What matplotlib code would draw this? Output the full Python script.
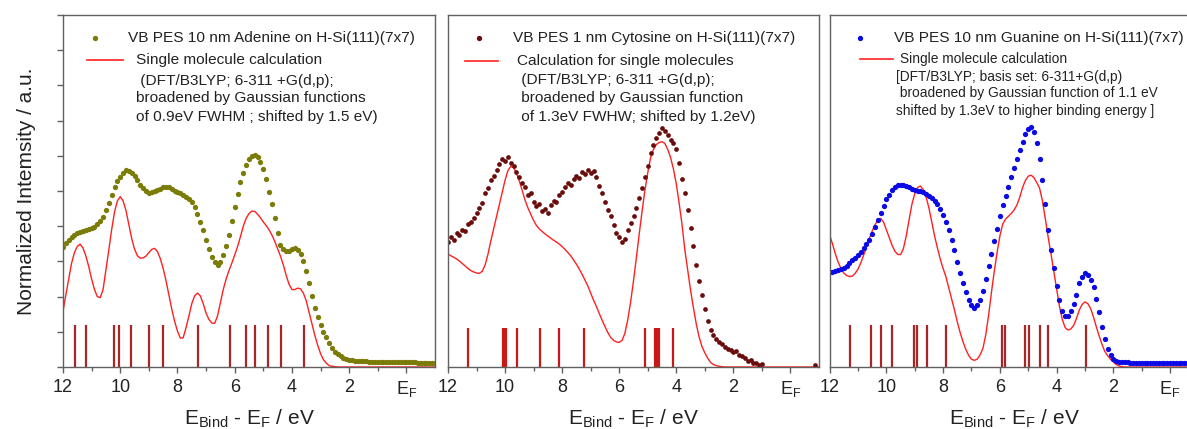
import numpy as np
import matplotlib
matplotlib.use('Agg')
import matplotlib.pyplot as plt
from matplotlib.ticker import FixedLocator

plt.rcParams['font.family'] = ['Liberation Sans', 'DejaVu Sans']
plt.rcParams['mathtext.default'] = 'regular'

# binding energy grid, 12 eV down to -1 eV in 0.1 eV steps
energy = np.round(np.arange(12.0, -1.05, -0.1), 1)

# --- Adenine (10 nm) ---
ade_pes = [3.42, 3.52, 3.60, 3.68, 3.75, 3.80, 3.84, 3.87, 3.89, 3.91,
           3.94, 3.99, 4.06, 4.15, 4.26, 4.45, 4.65, 4.88, 5.10, 5.28,
           5.40, 5.52, 5.59, 5.58, 5.52, 5.42, 5.30, 5.18, 5.08, 5.00,
           4.95, 4.97, 5.00, 5.03, 5.07, 5.10, 5.12, 5.10, 5.06, 5.01,
           4.96, 4.93, 4.88, 4.83, 4.77, 4.68, 4.55, 4.35, 4.12, 3.88,
           3.62, 3.36, 3.12, 2.97, 2.90, 2.98, 3.18, 3.45, 3.75, 4.15,
           4.55, 4.92, 5.25, 5.52, 5.75, 5.90, 6.00, 6.03, 5.97, 5.83,
           5.62, 5.33, 4.98, 4.62, 4.22, 3.80, 3.48, 3.36, 3.30, 3.30,
           3.34, 3.37, 3.33, 3.20, 3.00, 2.72, 2.38, 2.02, 1.68, 1.42,
           1.20, 1.00, 0.84, 0.68, 0.55, 0.44, 0.36, 0.30, 0.26, 0.23,
           0.21, 0.19, 0.18, 0.17, 0.17, 0.16, 0.16, 0.15, 0.15, 0.15,
           0.14, 0.14, 0.14, 0.14, 0.14, 0.14, 0.13, 0.13, 0.13, 0.13,
           0.13, 0.13, 0.13, 0.13, 0.12, 0.12, 0.12, 0.12, 0.12, 0.12,
           0.12]
ade_calc = [1.58, 2.05, 2.50, 2.95, 3.25, 3.43, 3.49, 3.38, 3.15, 2.85,
            2.50, 2.20, 2.00, 1.97, 2.20, 2.75, 3.32, 3.90, 4.40, 4.72,
            4.84, 4.72, 4.45, 4.05, 3.65, 3.35, 3.16, 3.09, 3.10, 3.15,
            3.25, 3.34, 3.37, 3.28, 3.08, 2.80, 2.45, 2.05, 1.65, 1.30,
            1.02, 0.82, 0.83, 1.12, 1.45, 1.80, 2.02, 2.10, 2.02, 1.80,
            1.53, 1.35, 1.25, 1.24, 1.45, 1.82, 2.20, 2.50, 2.74, 2.95,
            3.18, 3.42, 3.70, 4.00, 4.22, 4.36, 4.43, 4.42, 4.34, 4.24,
            4.12, 4.02, 3.90, 3.75, 3.57, 3.36, 3.15, 2.90, 2.60, 2.35,
            2.20, 2.20, 2.24, 2.22, 2.10, 1.88, 1.55, 1.22, 0.90, 0.62,
            0.38, 0.21, 0.11, 0.04, 0.02, 0.01, 0.0, 0.0, 0.0, 0.0,
            0.0, 0.0, 0.0, 0.0, 0.0, 0.0, 0.0, 0.0, 0.0, 0.0,
            0.0, 0.0, 0.0, 0.0, 0.0, 0.0, 0.0, 0.0, 0.0, 0.0,
            0.0, 0.0, 0.0, 0.0, 0.0, 0.0, 0.0, 0.0, 0.0, 0.0,
            0.0]
ade_sticks = [11.59, 11.18, 10.22, 10.04, 9.61, 8.98, 8.51, 7.27,
              6.18, 5.61, 5.30, 4.83, 4.39, 3.59]

# --- Cytosine (1 nm), measured from 12.0 to 1.0 eV ---
cyt_pes = [3.55, 3.68, 3.62, 3.80, 3.74, 3.90, 3.86, 4.05, 4.12, 4.22,
           4.38, 4.52, 4.66, 4.95, 5.08, 5.30, 5.42, 5.60, 5.78, 5.92,
           5.85, 5.98, 5.80, 5.70, 5.55, 5.40, 5.22, 5.12, 4.90, 4.95,
           4.70, 4.58, 4.62, 4.42, 4.50, 4.38, 4.60, 4.72, 4.68, 4.90,
           4.98, 5.10, 5.22, 5.18, 5.35, 5.42, 5.38, 5.55, 5.48, 5.60,
           5.52, 5.58, 5.40, 5.15, 4.95, 4.70, 4.45, 4.28, 4.02, 3.80,
           3.70, 3.55, 3.65, 3.90, 4.08, 4.30, 4.52, 4.80, 5.08, 5.40,
           5.70, 6.08, 6.30, 6.50, 6.65, 6.78, 6.70, 6.60, 6.45, 6.35,
           6.18, 5.80, 5.35, 4.93, 4.45, 3.95, 3.45, 2.90, 2.45, 2.05,
           1.65, 1.30, 1.05, 0.92, 0.80, 0.70, 0.65, 0.58, 0.52, 0.48,
           0.42, 0.45, 0.35, 0.30, 0.25, 0.18, 0.20, 0.12, 0.10, 0.06,
           0.08]
cyt_tail_e = [-0.85]
cyt_tail_i = [0.07]
cyt_calc = [3.21, 3.16, 3.12, 3.07, 3.01, 2.94, 2.87, 2.80, 2.74, 2.70,
            2.67, 2.66, 2.72, 2.90, 3.20, 3.58, 3.92, 4.27, 4.62, 4.98,
            5.31, 5.58, 5.70, 5.66, 5.50, 5.28, 5.02, 4.74, 4.52, 4.34,
            4.16, 4.02, 3.92, 3.85, 3.78, 3.72, 3.66, 3.60, 3.55, 3.49,
            3.42, 3.34, 3.25, 3.16, 3.04, 2.92, 2.78, 2.63, 2.47, 2.30,
            2.10, 1.90, 1.72, 1.52, 1.33, 1.15, 0.98, 0.84, 0.76, 0.71,
            0.70, 0.76, 0.96, 1.35, 1.85, 2.45, 3.10, 3.78, 4.42, 5.02,
            5.52, 5.95, 6.18, 6.32, 6.38, 6.40, 6.35, 6.18, 5.95, 5.62,
            5.20, 4.65, 4.05, 3.32, 2.75, 2.18, 1.68, 1.22, 0.85, 0.58,
            0.40, 0.25, 0.13, 0.07, 0.04, 0.02, 0.01, 0.0, 0.0, 0.0,
            0.0, 0.0, 0.0, 0.0, 0.0, 0.0, 0.0, 0.0, 0.0, 0.0,
            0.0, 0.0, 0.0, 0.0, 0.0, 0.0, 0.0, 0.0, 0.0, 0.0,
            0.0, 0.0, 0.0, 0.0, 0.0, 0.0, 0.0, 0.0, 0.0, 0.0,
            0.0]
cyt_sticks = [11.30, 10.07, 10.02, 9.96, 9.57, 8.76, 8.11, 7.22,
              5.09, 4.74, 4.67, 4.59, 4.11]

# --- Guanine (10 nm) ---
gua_pes = [2.69, 2.71, 2.73, 2.75, 2.78, 2.82, 2.88, 2.95, 3.03, 3.11,
           3.19, 3.28, 3.38, 3.49, 3.61, 3.78, 3.98, 4.18, 4.38, 4.58,
           4.76, 4.90, 5.02, 5.11, 5.16, 5.18, 5.17, 5.14, 5.10, 5.06,
           5.03, 5.01, 4.99, 4.97, 4.92, 4.87, 4.81, 4.72, 4.62, 4.50,
           4.33, 4.12, 3.88, 3.60, 3.32, 2.98, 2.66, 2.38, 2.12, 1.90,
           1.76, 1.69, 1.75, 1.90, 2.15, 2.50, 2.88, 3.22, 3.58, 3.92,
           4.28, 4.60, 4.85, 5.12, 5.40, 5.66, 5.92, 6.16, 6.40, 6.62,
           6.77, 6.82, 6.68, 6.36, 5.92, 5.30, 4.62, 3.90, 3.32, 2.80,
           2.30, 1.90, 1.58, 1.44, 1.45, 1.58, 1.78, 2.05, 2.38, 2.56,
           2.66, 2.62, 2.48, 2.26, 1.92, 1.55, 1.15, 0.80, 0.52, 0.34,
           0.24, 0.18, 0.15, 0.14, 0.13, 0.13, 0.12, 0.12, 0.12, 0.12,
           0.12, 0.12, 0.12, 0.12, 0.12, 0.12, 0.12, 0.12, 0.12, 0.12,
           0.12, 0.12, 0.12, 0.12, 0.12, 0.11, 0.11, 0.11, 0.11, 0.11,
           0.11]
gua_calc = [3.75, 3.50, 3.22, 2.98, 2.80, 2.67, 2.60, 2.57, 2.58, 2.66,
            2.78, 2.96, 3.18, 3.42, 3.65, 3.86, 4.04, 4.17, 4.22, 4.12,
            3.90, 3.68, 3.46, 3.29, 3.20, 3.19, 3.36, 3.72, 4.18, 4.62,
            4.92, 5.10, 5.14, 5.04, 4.83, 4.52, 4.12, 3.72, 3.38, 3.06,
            2.80, 2.56, 2.25, 1.95, 1.62, 1.28, 0.98, 0.72, 0.50, 0.33,
            0.22, 0.19, 0.22, 0.34, 0.52, 0.90, 1.45, 2.10, 2.70, 3.24,
            3.72, 4.06, 4.20, 4.28, 4.36, 4.46, 4.60, 4.82, 5.10, 5.30,
            5.42, 5.45, 5.38, 5.24, 5.08, 4.72, 4.22, 3.70, 3.22, 2.72,
            2.22, 1.72, 1.35, 1.12, 1.05, 1.08, 1.18, 1.38, 1.62, 1.78,
            1.85, 1.80, 1.66, 1.42, 1.14, 0.88, 0.64, 0.44, 0.32, 0.22,
            0.14, 0.07, 0.03, 0.01, 0.0, 0.0, 0.0, 0.0, 0.0, 0.0,
            0.0, 0.0, 0.0, 0.0, 0.0, 0.0, 0.0, 0.0, 0.0, 0.0,
            0.0, 0.0, 0.0, 0.0, 0.0, 0.0, 0.0, 0.0, 0.0, 0.0,
            0.0]
gua_sticks = [11.28, 10.55, 10.19, 9.81, 9.01, 8.93, 8.58, 7.90,
              5.93, 5.83, 5.11, 4.99, 4.58, 4.29, 2.97]

xtick_pos = [12, 10, 8, 6, 4, 2, 0]
xtick_lab = ['12', '10', '8', '6', '4', '2', 'E$_F$']

ade_title = 'VB PES 10 nm Adenine on H-Si(111)(7x7)'
ade_lines = ['Single molecule calculation',
             ' (DFT/B3LYP; 6-311 +G(d,p);',
             'broadened by Gaussian functions',
             'of 0.9eV FWHM ; shifted by 1.5 eV)']
cyt_title = 'VB PES 1 nm Cytosine on H-Si(111)(7x7)'
cyt_lines = ['Calculation for single molecules',
             ' (DFT/B3LYP; 6-311 +G(d,p);',
             ' broadened by Gaussian function',
             ' of 1.3eV FWHW; shifted by 1.2eV)']
gua_title = 'VB PES 10 nm Guanine on H-Si(111)(7x7)'
gua_lines = [' Single molecule calculation',
             '[DFT/B3LYP; basis set: 6-311+G(d,p)',
             ' broadened by Gaussian function of 1.1 eV',
             'shifted by 1.3eV to higher binding energy ]']

CALC_RED = '#ff2020'
TEXT = '#222222'
FRAME = '#606060'

W, H = 1187, 429
fig = plt.figure(figsize=(W / 100, H / 100), dpi=100)


def make_axes(left_px, right_px):
    ax = fig.add_axes([left_px / W, (H - 367) / H, (right_px - left_px) / W, 352 / H])
    ax.set_xlim(12, -1)
    ax.set_ylim(0, 10)
    for sp in ax.spines.values():
        sp.set_color(FRAME)
        sp.set_linewidth(1.0)
    ax.xaxis.set_major_locator(FixedLocator(xtick_pos))
    ax.set_xticklabels(xtick_lab)
    ax.xaxis.set_minor_locator(FixedLocator([11, 9, 7, 5, 3, 1]))
    ax.tick_params(axis='x', which='major', direction='out', length=4, width=1,
                   color=FRAME, labelcolor=TEXT, labelsize=13, pad=4.5)
    ax.tick_params(axis='x', which='minor', direction='out', length=3, width=1, color=FRAME)
    ax.tick_params(top=False, right=False)
    ax.set_xlabel('E$_{Bind}$ - E$_F$ / eV', fontsize=15, color=TEXT, labelpad=6.5)
    return ax


def add_key(ax, dot_color, x_dot, x_title, title, x_line, x_text, lines, ys, size):
    ax.plot([x_dot], [0.935], 'o', ms=2.8, color=dot_color, transform=ax.transAxes, clip_on=False)
    ax.text(x_title, 0.935, title, transform=ax.transAxes, va='center', fontsize=11.1, color=TEXT)
    ax.plot(x_line, [ys[0], ys[0]], color=CALC_RED, lw=1.2, transform=ax.transAxes)
    for s, y in zip(lines, ys):
        ax.text(x_text, y, s, transform=ax.transAxes, va='center', fontsize=size, color=TEXT)


# Adenine
ax1 = make_axes(63, 435)
ax1.vlines(ade_sticks, 0, 1.2, color='#a82626', lw=1.6)
ax1.plot(energy, ade_calc, color=CALC_RED, lw=1.0)
ax1.plot(energy, ade_pes, 'o', ms=3.8, color='#7b7b08', mec='none')
ax1.set_yticks(range(0, 11))
ax1.set_yticklabels([])
ax1.tick_params(axis='y', direction='out', length=4, width=1, color=FRAME)
ax1.set_ylabel('Normalized Intemsity / a.u.', fontsize=15, color=TEXT)
ax1.yaxis.set_label_coords(-0.072, 0.5)
add_key(ax1, '#7b7b08', 0.086, 0.175, ade_title, [0.0645, 0.161], 0.197,
        ade_lines, [0.872, 0.8125, 0.764, 0.710], 11.1)

# Cytosine
ax2 = make_axes(448, 819)
ax2.vlines(cyt_sticks, 0, 1.1, color='#c81818', lw=1.6)
ax2.plot(energy, cyt_calc, color=CALC_RED, lw=1.0)
ax2.plot(energy[:len(cyt_pes)], cyt_pes, 'o', ms=3.4, color='#6a0c0c', mec='none')
ax2.plot(cyt_tail_e, cyt_tail_i, 'o', ms=3.4, color='#6a0c0c', mec='none')
ax2.set_yticks([])
add_key(ax2, '#6a0c0c', 0.0836, 0.175, cyt_title, [0.046, 0.135], 0.186,
        cyt_lines, [0.869, 0.815, 0.764, 0.710], 11.1)

# Guanine (right frame runs past the picture edge)
ax3 = make_axes(829.6, 1198.5)
ax3.vlines(gua_sticks, 0, 1.2, color='#a82626', lw=1.6)
ax3.plot(energy, gua_calc, color=CALC_RED, lw=1.0)
ax3.plot(energy, gua_pes, 'o', ms=3.8, color='#0a0ae6', mec='none')
ax3.set_yticks([])
add_key(ax3, '#0a0ae6', 0.0824, 0.174, gua_title, [0.082, 0.1715], 0.180,
        gua_lines, [0.875, 0.824, 0.778, 0.727], 9.9)

fig.savefig('out.png', dpi=100)
